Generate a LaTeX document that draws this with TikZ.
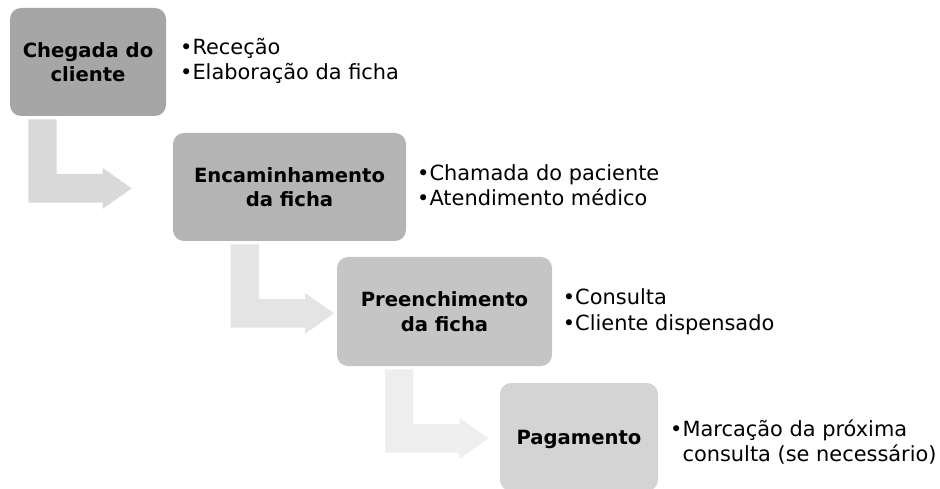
\documentclass[tikz,border=0pt]{standalone}
\usepackage{fontspec}
\setmainfont{DejaVu Sans}
\definecolor{boxA}{HTML}{A6A6A6}
\definecolor{boxB}{HTML}{B4B4B4}
\definecolor{boxC}{HTML}{C5C5C5}
\definecolor{boxD}{HTML}{D4D4D4}
\definecolor{arrA}{HTML}{D9D9D9}
\definecolor{arrB}{HTML}{E4E4E4}
\definecolor{arrC}{HTML}{EEEEEE}
\newcommand\stepboxfont{\bfseries\fontsize{19.6}{24.5}\selectfont}
\newcommand\stepitemfont{\fontsize{20.9}{25}\selectfont}
\newcommand\stepitems[1]{\begin{tabular}[t]{@{}l@{}l@{}}#1\end{tabular}}
\begin{document}
\begin{tikzpicture}[x=1pt,y=-1pt,
  stepbox/.style={fill=#1, draw=none, rounded corners=11pt, inner sep=0pt,
    align=center, font=\stepboxfont, text=black},
  itemtext/.style={anchor=base west, inner sep=0pt, font=\stepitemfont, text=black},
  pics/bentarrow/.style={code={
    \fill[pic actions] (0,0) -- (28.4,0) -- (28.4,54.7) -- (74.4,54.7) -- (74.4,48.6)
      -- (103.4,69.05) -- (74.4,89.5) -- (74.4,83.4) -- (0,83.4) -- cycle;}}
]
\useasboundingbox (0,0) rectangle (940,489);

% bent arrows
\pic[fill=arrA] at (28.3,119.3) {bentarrow};
\pic[fill=arrB] at (230.7,244.3) {bentarrow};
\pic[fill=arrC] at (385,369.3) {bentarrow};

% step boxes
\node[stepbox=boxA, minimum width=156pt, minimum height=108pt] (b1) at (88,62) {Chegada do\\cliente};
\node[stepbox=boxB, minimum width=233pt, minimum height=108pt] (b2) at (289.5,187) {Encaminhamento\\da ficha};
\node[stepbox=boxC, minimum width=215pt, minimum height=109pt] (b3) at (444.5,311.5) {Preenchimento\\da ficha};
\node[stepbox=boxD, minimum width=158pt, minimum height=108pt, text depth=0pt] (b4) at (579,437) {Pagamento};

% bullet texts
\node[itemtext] (t1) at (180,55) {\stepitems{•&Receção\\•&Elaboração da ficha}};
\node[itemtext] (t2) at (417,181) {\stepitems{•&Chamada do paciente\\•&Atendimento médico}};
\node[itemtext] (t3) at (562.7,305) {\stepitems{•&Consulta\\•&Cliente dispensado}};
\node[itemtext] (t4) at (670,436) {\stepitems{•&Marcação da próxima\\&consulta (se necessário)}};
\end{tikzpicture}
\end{document}
